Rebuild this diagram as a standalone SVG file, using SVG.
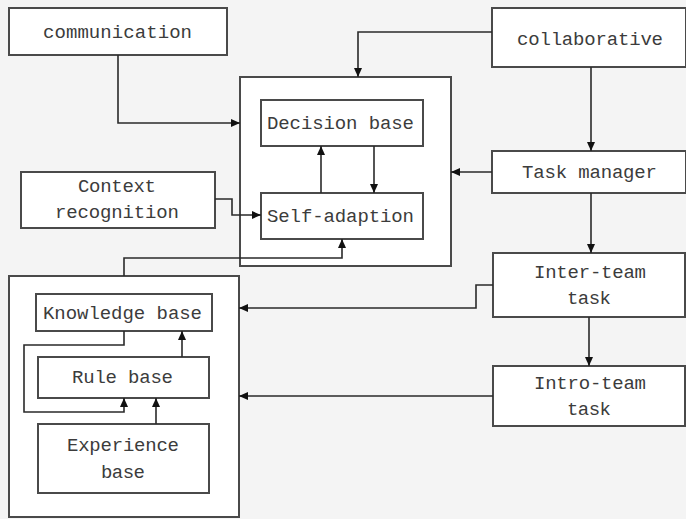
<svg xmlns="http://www.w3.org/2000/svg" width="686" height="519" viewBox="0 0 686 519">
  <style>
    .box { fill: #ffffff; stroke: #4a4a4a; stroke-width: 2; }
    .lbl { font-family: "Liberation Mono", "DejaVu Sans Mono", monospace; font-size: 19px; fill: #3c3c3c; }
    .wire { fill: none; stroke: #2a2a2a; stroke-width: 1.6; }
    .arr { marker-end: url(#head); }
  </style>
  <defs>
    <marker id="head" markerUnits="userSpaceOnUse" markerWidth="10" markerHeight="8" refX="9" refY="4" orient="auto">
      <path d="M0,0 L9,4 L0,8 z" fill="#111111"/>
    </marker>
  </defs>

  <rect x="0" y="0" width="686" height="519" fill="#f4f4f4"/>

  <!-- containers -->
  <g id="core-frame"><rect class="box" x="240" y="77" width="211" height="189"/></g>
  <g id="knowledge-frame"><rect class="box" x="9" y="276" width="230" height="241"/></g>

  <!-- nodes -->
  <g id="communication">
    <rect class="box" x="9" y="8" width="218" height="47"/>
    <text class="lbl" x="43" y="38" textLength="149">communication</text>
  </g>
  <g id="collaborative">
    <rect class="box" x="492" y="8" width="194" height="59"/>
    <text class="lbl" x="517" y="45" textLength="146">collaborative</text>
  </g>
  <g id="decision-base">
    <rect class="box" x="261" y="100" width="162" height="46"/>
    <text class="lbl" x="267" y="129" textLength="147">Decision base</text>
  </g>
  <g id="self-adaption">
    <rect class="box" x="261" y="193" width="162" height="46"/>
    <text class="lbl" x="267" y="222" textLength="147">Self-adaption</text>
  </g>
  <g id="context-recognition">
    <rect class="box" x="21" y="172" width="194" height="56"/>
    <text class="lbl" x="78" y="192" textLength="78">Context</text>
    <text class="lbl" x="55" y="218" textLength="124">recognition</text>
  </g>
  <g id="task-manager">
    <rect class="box" x="492" y="151" width="194" height="42"/>
    <text class="lbl" x="522" y="178" textLength="135">Task manager</text>
  </g>
  <g id="inter-team-task">
    <rect class="box" x="493" y="253" width="192" height="64"/>
    <text class="lbl" x="534" y="278" textLength="112">Inter-team</text>
    <text class="lbl" x="567" y="304" textLength="44">task</text>
  </g>
  <g id="intro-team-task">
    <rect class="box" x="493" y="366" width="192" height="60"/>
    <text class="lbl" x="534" y="389" textLength="112">Intro-team</text>
    <text class="lbl" x="567" y="415" textLength="44">task</text>
  </g>
  <g id="knowledge-base">
    <rect class="box" x="36" y="294" width="176" height="37"/>
    <text class="lbl" x="43" y="319" textLength="159">Knowledge base</text>
  </g>
  <g id="rule-base">
    <rect class="box" x="38" y="357" width="171" height="41"/>
    <text class="lbl" x="72" y="383" textLength="101">Rule base</text>
  </g>
  <g id="experience-base">
    <rect class="box" x="38" y="424" width="171" height="69"/>
    <text class="lbl" x="67" y="451" textLength="112">Experience</text>
    <text class="lbl" x="101" y="478" textLength="44">base</text>
  </g>

  <!-- connectors -->
  <g id="connectors">
    <path class="wire arr" d="M118,55 V123 H240"/>
    <path class="wire arr" d="M492,32 H358 V77"/>
    <path class="wire arr" d="M591,67 V151"/>
    <path class="wire arr" d="M492,172 H451"/>
    <path class="wire arr" d="M591,193 V253"/>
    <path class="wire arr" d="M589,317 V366"/>
    <path class="wire arr" d="M493,285 H476 V308 H239"/>
    <path class="wire arr" d="M493,396 H239"/>
    <path class="wire arr" d="M215,199 H232 V215 H261"/>
    <path class="wire arr" d="M124,276 V258 H342 V239"/>
    <path class="wire arr" d="M374,146 V193"/>
    <path class="wire arr" d="M321,193 V146"/>
    <path class="wire arr" d="M182,357 V331"/>
    <path class="wire arr" d="M156,424 V398"/>
    <path class="wire arr" d="M124,331 V345 H24 V412 H124 V398"/>
  </g>
</svg>
